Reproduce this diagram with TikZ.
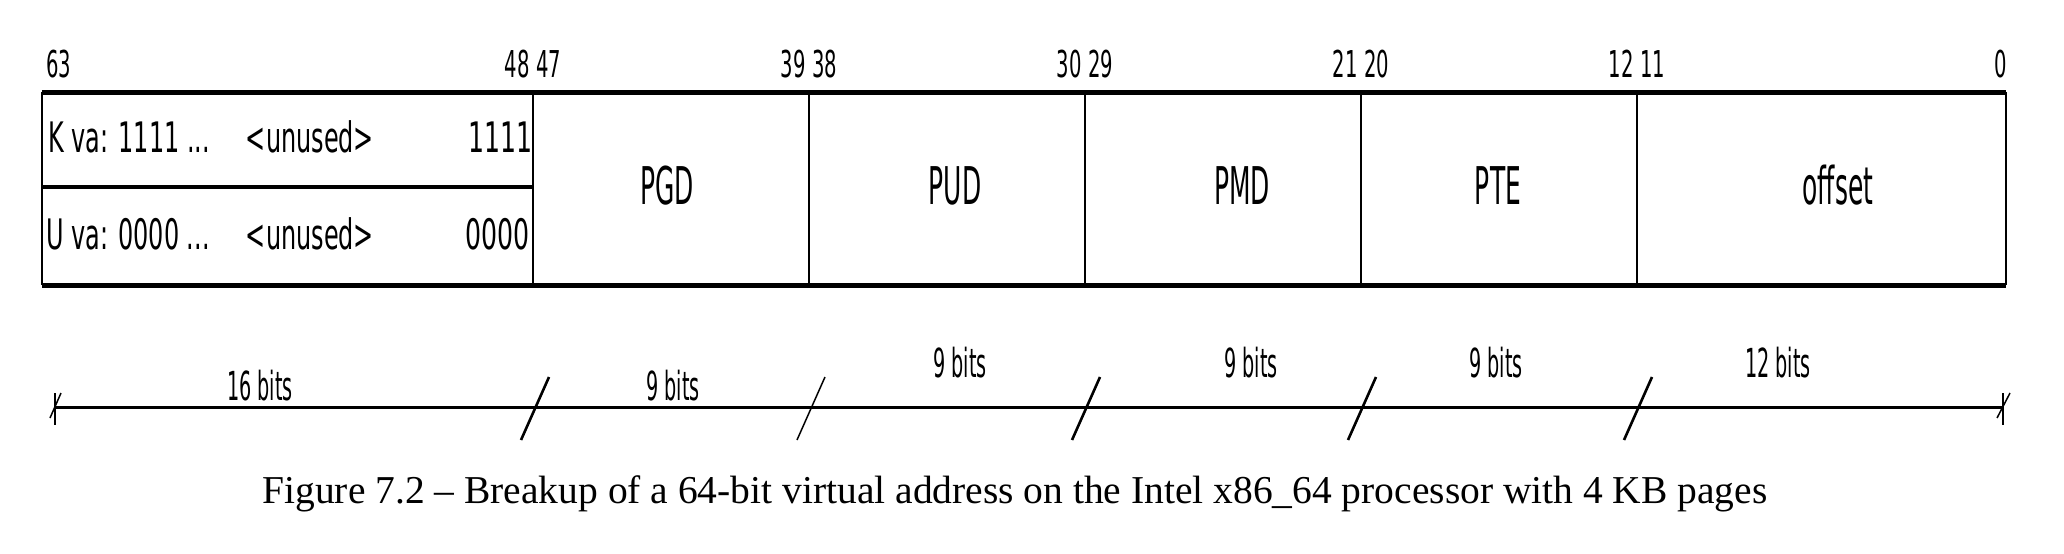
\documentclass[tikz,border=0pt]{standalone}
\usepackage{fontspec}
\usepackage{graphicx}
\setmainfont{Liberation Serif}
\newfontfamily\dvsans{DejaVu Sans}
\newcommand{\sq}[2]{\scalebox{#1}[1]{#2}}
\begin{document}
\begin{tikzpicture}[x=1pt,y=-1pt,
  bitlbl/.style={inner sep=0pt, font=\dvsans\fontsize{37}{37}\selectfont},
  rowlbl/.style={inner sep=0pt, font=\dvsans\fontsize{42}{42}\selectfont},
  fieldlbl/.style={inner sep=0pt, anchor=base, font=\dvsans\fontsize{52}{52}\selectfont},
  dimlbl/.style={inner sep=0pt, anchor=base, font=\dvsans\fontsize{40}{40}\selectfont},
  hline/.style={line width=5pt},
  vline/.style={line width=2.8pt},
  slashthick/.style={line width=2.6pt},
  slashthin/.style={line width=1.5pt},
  endtick/.style={line width=1.5pt}]
\useasboundingbox (0,0) rectangle (2064,554);
\fill[white] (0,0) rectangle (2064,554);

% outer box
\coordinate (tl) at (42,92);
\coordinate (tr) at (2006,92);
\coordinate (bl) at (42,285);
\coordinate (br) at (2006,285);
\draw[hline] (tl) -- (tr);
\draw[hline] (bl) -- (br);
\draw[vline] (tl) -- (bl);
\draw[vline] (tr) -- (br);
% dividers
\foreach \n/\x in {d1/533,d2/809,d3/1085,d4/1361,d5/1637}{
  \coordinate (\n t) at (\x,92);
  \coordinate (\n b) at (\x,285);
  \draw[vline] (\n t) -- (\n b);
}
\coordinate (midl) at (42,187);
\coordinate (midr) at (533,187);
\draw[line width=4pt] (midl) -- (midr);

% bit numbers
\node[bitlbl, anchor=base west] (b63) at (46,77) {\sq{0.53}{63}};
\node[bitlbl, anchor=base] (b48) at (533,77) {\sq{0.53}{48 47}};
\node[bitlbl, anchor=base] (b39) at (809,77) {\sq{0.53}{39 38}};
\node[bitlbl, anchor=base] (b30) at (1085,77) {\sq{0.53}{30 29}};
\node[bitlbl, anchor=base] (b21) at (1361,77) {\sq{0.53}{21 20}};
\node[bitlbl, anchor=base] (b12) at (1637,77) {\sq{0.53}{12 11}};
\node[bitlbl, anchor=base east] (b0) at (2007,77) {\sq{0.53}{0}};

% left field rows
\node[rowlbl, anchor=base west] (kva) at (48,152) {\sq{0.57}{K va: 1111 ...}};
\node[rowlbl, anchor=base] (kun) at (310,152) {\sq{0.57}{<unused>}};
\node[rowlbl, anchor=base east] (k1) at (533,152) {\sq{0.6}{1111}};
\node[rowlbl, anchor=base west] (uva) at (46,249) {\sq{0.57}{U va: 0000 ...}};
\node[rowlbl, anchor=base] (uun) at (310,249) {\sq{0.57}{<unused>}};
\node[rowlbl, anchor=base east] (u0) at (530,249) {\sq{0.6}{0000}};

% field names
\node[fieldlbl] (pgd) at (667,204) {\sq{0.48}{PGD}};
\node[fieldlbl] (pud) at (955,204) {\sq{0.48}{PUD}};
\node[fieldlbl] (pmd) at (1242,204) {\sq{0.48}{PMD}};
\node[fieldlbl] (pte) at (1498,204) {\sq{0.48}{PTE}};
\node[fieldlbl] (off) at (1838,204) {\sq{0.48}{offset}};

% dimension line
\coordinate (dl) at (55,407);
\coordinate (dr) at (2003,407);
\draw[line width=3pt] (dl) -- (dr);
\coordinate (dlt) at (55,393);
\coordinate (dlb) at (55,425);
\draw[endtick] (dlt) -- (dlb);
\coordinate (dls1) at (50,418);
\coordinate (dls2) at (61,393);
\draw[endtick] (dls1) -- (dls2);
\coordinate (drt) at (2003,393);
\coordinate (drb) at (2003,425);
\draw[endtick] (drt) -- (drb);
\coordinate (drs1) at (1997,418);
\coordinate (drs2) at (2010,393);
\draw[endtick] (drs1) -- (drs2);

\foreach \n/\x/\s in {s1/535/slashthick,s2/811/slashthin,s3/1086/slashthick,s4/1362/slashthick,s5/1638/slashthick}{
  \coordinate (\n a) at ({\x-14},440);
  \coordinate (\n b) at ({\x+14},377);
  \draw[\s] (\n a) -- (\n b);
}

\node[dimlbl] (w16) at (260,400) {\sq{0.48}{16 bits}};
\node[dimlbl] (w9a) at (673,400) {\sq{0.48}{9 bits}};
\node[dimlbl] (w9b) at (960,377) {\sq{0.48}{9 bits}};
\node[dimlbl] (w9c) at (1251,377) {\sq{0.48}{9 bits}};
\node[dimlbl] (w9d) at (1496,377) {\sq{0.48}{9 bits}};
\node[dimlbl] (w12) at (1778,377) {\sq{0.48}{12 bits}};

% caption
\node[inner sep=0pt, anchor=base, font=\fontsize{39.5}{39.5}\selectfont] (cap) at (1015,503)
  {Figure 7.2 – Breakup of a 64-bit virtual address on the Intel x86\_64 processor with 4 KB pages};
\end{tikzpicture}
\end{document}
